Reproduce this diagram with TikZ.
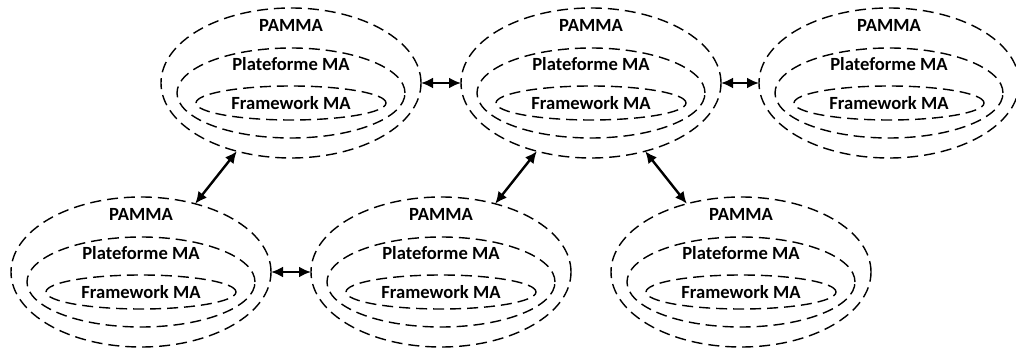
\documentclass[tikz,border=0pt]{standalone}
\usepackage{fontspec}
\setmainfont{Carlito}
\usetikzlibrary{shapes.geometric,arrows.meta}
\tikzset{
ring/.style={draw,ellipse,dash pattern=on 5.5pt off 3pt,line width=0.7pt,inner sep=0pt,outer sep=0pt},
txt/.style={font=\bfseries\fontsize{9.3}{11}\selectfont,inner sep=0pt},
link/.style={{Latex[length=6pt,width=5.5pt]}-{Latex[length=6pt,width=5.5pt]},line width=1.2pt}
}
\begin{document}
\begin{tikzpicture}[x=0.5pt,y=-0.5pt]
\useasboundingbox (0,0) rectangle (1016,352);
\foreach \n/\x/\y in {1/291/83,2/591/83,3/889/83,4/141/272,5/441/272,6/741/272} % edit here for the groups
{
\node[ring,minimum width=130pt,minimum height=75pt] (pamma\n) at (\x,\y) {};
\node[ring,minimum width=114pt,minimum height=45pt] (plat\n) at (\x,\y+10) {};
\node[ring,minimum width=95pt,minimum height=17pt] (frame\n) at (\x,\y+20) {};
\node[txt] (tpamma\n) at (\x,\y-58) {PAMMA};
\node[txt] (tplat\n) at (\x,\y-19) {Plateforme MA};
\node[txt] (tframe\n) at (\x,\y+20) {Framework MA};
}
\foreach \a/\b in {1/2,2/3,4/5,1/4,2/5,2/6} % edit here for the arrows
\draw[link] (pamma\a) -- (pamma\b);
\end{tikzpicture}
\end{document}
